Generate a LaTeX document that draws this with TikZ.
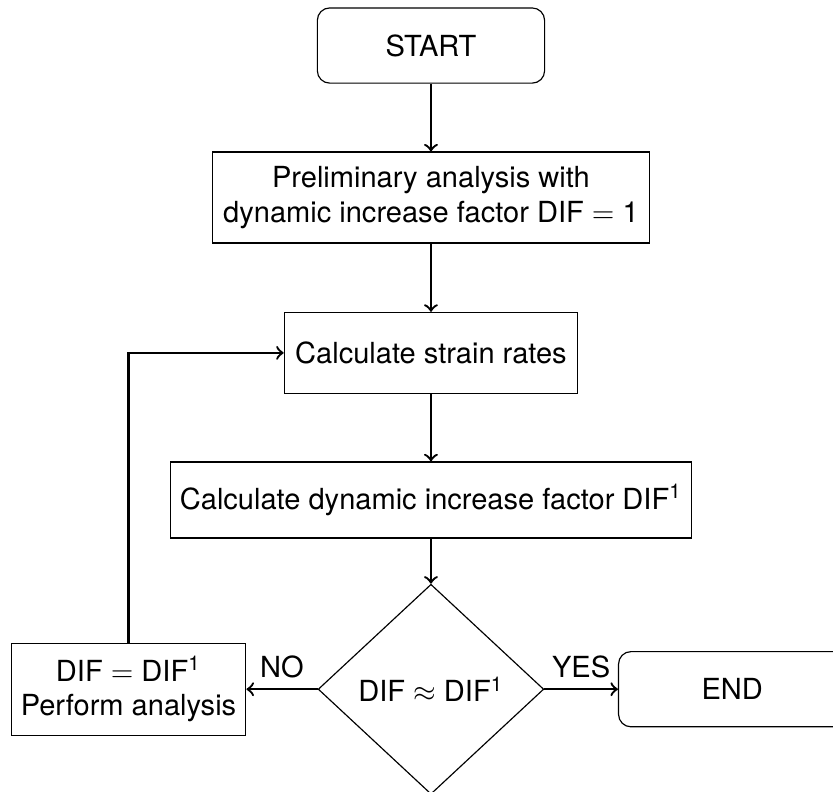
\documentclass[tikz,border=0pt]{standalone}
\usepackage{fontspec}
\setmainfont{TeX Gyre Heros}
\usetikzlibrary{shapes.geometric}

\begin{document}
\begin{tikzpicture}[
  block/.style={draw, rectangle, align=center, minimum height=0.92cm},
  terminal/.style={draw, rectangle, rounded corners=0.15cm,
    minimum width=2.75cm, minimum height=0.91cm},
  decision/.style={draw, diamond, inner sep=0pt,
    minimum width=2.73cm, minimum height=2.54cm},
  line/.style={thick, ->}]
  \useasboundingbox (0,0) rectangle (10.08,-9.58);

  \node[terminal] (start) at (5.215,-0.551) {START};
  \node[block, minimum width=5.28cm, minimum height=1.10cm] (prelim) at (5.215,-2.39)
    {Preliminary analysis with\\ dynamic increase factor DIF $=$ 1};
  \node[block, minimum width=3.55cm, minimum height=0.98cm] (strain) at (5.215,-4.27)
    {Calculate strain rates};
  \node[block, minimum width=5.29cm] (newdif) at (5.215,-6.05)
    {Calculate dynamic increase factor DIF\textsuperscript{1}};
  \node[decision] (check) at (5.215,-8.34) {DIF $\approx$ DIF\textsuperscript{1}};
  \node[block, minimum width=2.84cm, minimum height=1.11cm] (update) at (1.555,-8.34)
    {DIF $=$ DIF\textsuperscript{1}\\ Perform analysis};
  \node[terminal] (end) at (8.86,-8.34) {END};

  \draw[line] (start) -- (prelim);
  \draw[line] (prelim) -- (strain);
  \draw[line] (strain) -- (newdif);
  \draw[line] (newdif) -- (check);
  \draw[line] (check) -- node[above] {YES} (end);
  \draw[line] (check) -- node[above] {NO} (update);
  \draw[line] (update.north) |- (strain.west);
\end{tikzpicture}
\end{document}
